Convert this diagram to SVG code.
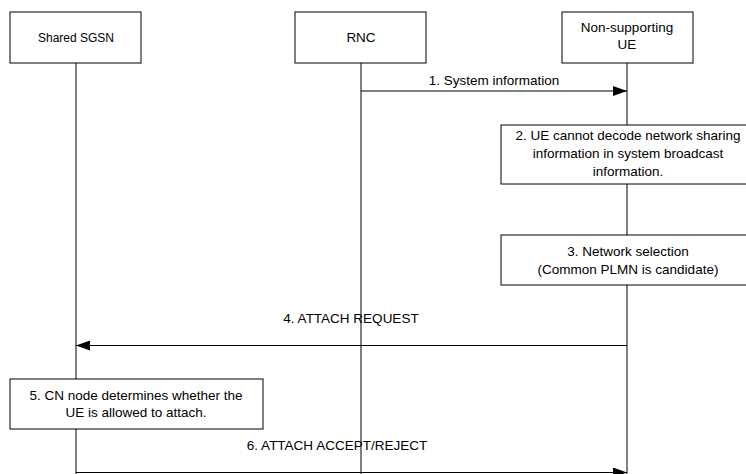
<svg xmlns="http://www.w3.org/2000/svg" width="746" height="474" viewBox="0 0 746 474">
<defs>
<style>
.box{fill:#fff;stroke:#000;stroke-width:1}
.life{stroke:#000;stroke-width:1}
.msg{stroke:#000;stroke-width:1;fill:none}
text{font-family:"Liberation Sans",Arial,sans-serif;font-size:13.5px;fill:#000;text-anchor:middle}
.small{font-size:12px}
</style>
<marker id="ah" markerWidth="14" markerHeight="10" refX="14" refY="5" orient="auto" markerUnits="userSpaceOnUse">
<path d="M0,0 L14,5 L0,10 Z" fill="#000"/>
</marker>
</defs>
<rect width="746" height="474" fill="#fff"/>
<g id="lifelines">
<line class="life" x1="76" y1="63" x2="76" y2="474"/>
<line class="life" x1="361" y1="63" x2="361" y2="474"/>
<line class="life" x1="627" y1="63" x2="627" y2="474"/>
</g>
<g id="sgsn">
<rect class="box" x="10" y="12" width="131" height="51"/>
<text class="small" x="76" y="42">Shared SGSN</text>
</g>
<g id="rnc">
<rect class="box" x="295" y="12" width="131" height="51"/>
<text x="361" y="42">RNC</text>
</g>
<g id="ue">
<rect class="box" x="562" y="12" width="131" height="51"/>
<text x="627" y="32">Non-supporting</text>
<text x="627" y="49">UE</text>
</g>
<g id="step2">
<rect class="box" x="501" y="125" width="253" height="59"/>
<text x="628" y="140">2. UE cannot decode network sharing</text>
<text x="628" y="158">information in system broadcast</text>
<text x="628" y="176">information.</text>
</g>
<g id="step3">
<rect class="box" x="501" y="235" width="253" height="50"/>
<text x="628" y="256">3. Network selection</text>
<text x="628" y="274">(Common PLMN is candidate)</text>
</g>
<g id="step5">
<rect class="box" x="10" y="379" width="253" height="50"/>
<text x="136" y="400">5. CN node determines whether the</text>
<text x="136" y="417">UE is allowed to attach.</text>
</g>
<g id="connectors">
<line class="msg" x1="361" y1="91" x2="627" y2="91" marker-end="url(#ah)"/>
<text x="494" y="85">1. System information</text>
<line class="msg" x1="627" y1="345.5" x2="76" y2="345.5" marker-end="url(#ah)"/>
<text x="351" y="323">4. ATTACH REQUEST</text>
<line class="msg" x1="76" y1="472.5" x2="627" y2="472.5" marker-end="url(#ah)"/>
<text x="337" y="450">6. ATTACH ACCEPT/REJECT</text>
</g>
</svg>
